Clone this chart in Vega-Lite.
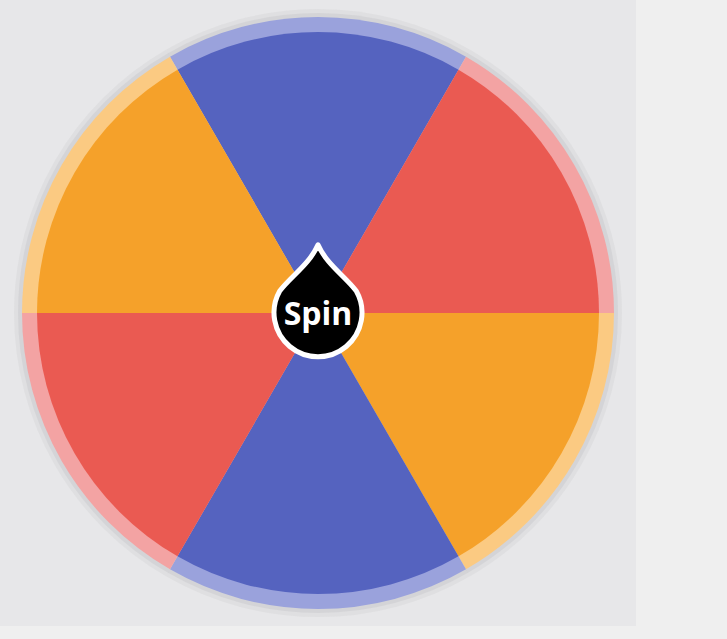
{
  "$schema": "https://vega.github.io/schema/vega-lite/v6.json",
  "width": 636,
  "height": 626,
  "autosize": "none",
  "padding": {"left": 0, "top": 0, "right": 91, "bottom": 13},
  "background": "#efefef",
  "view": {"fill": "#e7e7e9", "stroke": null},
  "config": {"view": {"fill": "#e7e7e9", "stroke": null}},
  "datasets": {
    "segments": [
      {"id": 1, "color": "blue", "value": 1},
      {"id": 2, "color": "red", "value": 1},
      {"id": 3, "color": "orange", "value": 1},
      {"id": 4, "color": "blue", "value": 1},
      {"id": 5, "color": "red", "value": 1},
      {"id": 6, "color": "orange", "value": 1}
    ],
    "button": [{"label": "Spin"}]
  },
  "layer": [
    {
      "data": {"name": "segments"},
      "mark": {"type": "arc", "radius": 304, "radius2": 0, "fill": "#9a9aa0", "opacity": 0.1},
      "encoding": {
        "theta": {"field": "value", "type": "quantitative", "stack": true, "scale": {"range": [-0.5236, 5.7596]}},
        "order": {"field": "id", "type": "quantitative"}
      }
    },
    {
      "data": {"name": "segments"},
      "mark": {"type": "arc", "radius": 300, "radius2": 0, "fill": "#9a9aa0", "opacity": 0.15},
      "encoding": {
        "theta": {"field": "value", "type": "quantitative", "stack": true, "scale": {"range": [-0.5236, 5.7596]}},
        "order": {"field": "id", "type": "quantitative"}
      }
    },
    {
      "data": {"name": "segments"},
      "mark": {"type": "arc", "radius": 296, "radius2": 0},
      "encoding": {
        "theta": {"field": "value", "type": "quantitative", "stack": true, "scale": {"range": [-0.5236, 5.7596]}},
        "order": {"field": "id", "type": "quantitative"},
        "color": {"field": "color", "type": "nominal", "legend": null,
          "scale": {"domain": ["blue", "red", "orange"], "range": ["#9aa2dc", "#f3a3a3", "#fbca82"]}}
      }
    },
    {
      "data": {"name": "segments"},
      "mark": {"type": "arc", "radius": 281, "radius2": 0},
      "encoding": {
        "theta": {"field": "value", "type": "quantitative", "stack": true, "scale": {"range": [-0.5236, 5.7596]}},
        "order": {"field": "id", "type": "quantitative"},
        "fill": {"field": "color", "type": "nominal", "legend": null,
          "scale": {"domain": ["blue", "red", "orange"], "range": ["#5563bf", "#ea5a52", "#f5a12a"]}}
      }
    },
    {
      "data": {"name": "button"},
      "mark": {
        "type": "point",
        "shape": "M0,-1.55 C0.2,-1.1 0.6,-0.85 0.87,-0.5 A1,1 0 1 1 -0.87,-0.5 C-0.6,-0.85 -0.2,-1.1 0,-1.55 Z",
        "size": 7744,
        "filled": true,
        "fill": "#000000",
        "stroke": "#ffffff",
        "strokeWidth": 5,
        "strokeJoin": "round",
        "opacity": 1,
        "dy": -1
      },
      "encoding": {}
    },
    {
      "data": {"name": "button"},
      "mark": {"type": "text", "font": "Open Sans", "fontWeight": "bold", "fontSize": 32, "color": "#ffffff", "baseline": "alphabetic", "align": "center", "dy": 12},
      "encoding": {"text": {"field": "label"}}
    }
  ],
  "resolve": {"scale": {"color": "independent", "fill": "independent"}}
}
